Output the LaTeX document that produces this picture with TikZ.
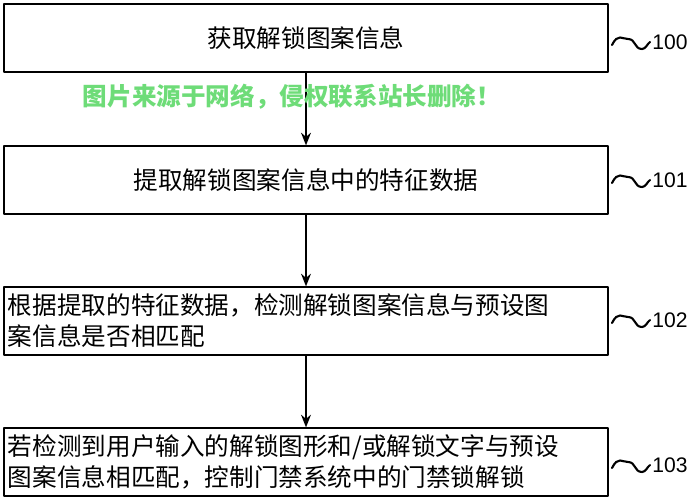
\documentclass[tikz,border=0pt]{standalone}
\usepackage{fontspec}
\newfontfamily\cjk{Noto Sans CJK SC}
\newfontfamily\tagfont{Liberation Sans}
\usetikzlibrary{arrows.meta}
\definecolor{markgreen}{RGB}{110,220,120}
\begin{document}
\begin{tikzpicture}[x=0.25mm,y=-0.25mm,>={Stealth[length=9pt,width=7pt]},line cap=round,line join=round,
  stepbox/.style={draw,line width=1.4pt,minimum width=151mm,minimum height=16.8mm,inner sep=0pt,
    font=\cjk\fontsize{17.5}{22}\selectfont},
  tag/.style={font=\tagfont\fontsize{15}{17}\selectfont,anchor=west,inner sep=0pt}]
  \useasboundingbox (0,0) rectangle (695,500);
  %--- steps -------------------------------------------------------------
  \node[stepbox] (b100) at (306,38) {获取解锁图案信息};
  \node[stepbox] (b101) at (306,180) {提取解锁图案信息中的特征数据};
  \node[stepbox,align=left,text width=149mm] (b102) at (306,321)
    {根据提取的特征数据，检测解锁图案信息与预设图\\案信息是否相匹配};
  \node[stepbox,align=left,text width=149mm] (b103) at (306,462)
    {若检测到用户输入的解锁图形和/或解锁文字与预设\\图案信息相匹配，控制门禁系统中的门禁锁解锁};
  %--- arrows ------------------------------------------------------------
  \draw[->,line width=1.4pt] (b100) -- (b101);
  \draw[->,line width=1.4pt] (b101) -- (b102);
  \draw[->,line width=1.4pt] (b102) -- (b103);
  %--- tags --------------------------------------------------------------
  \foreach \n/\y in {100/42,101/180,102/320,103/465}{
    \coordinate (s\n) at (612,\y+3);
    \draw[line width=1.5pt] (s\n) .. controls +(6,-12) and +(-6,0) .. +(16,-6)
      .. controls +(8,0) and +(-8,0) .. +(30,4) .. controls +(4,0) and +(-3,2) .. +(38,-3)
      node[tag,right=1pt] (t\n) {\n};
  }
  %--- watermark ---------------------------------------------------------
  \node[font=\cjk\bfseries\fontsize{17.5}{20}\selectfont,text=markgreen] (mark) at (292,97)
    {图片来源于网络，侵权联系站长删除！};
\end{tikzpicture}
\end{document}
